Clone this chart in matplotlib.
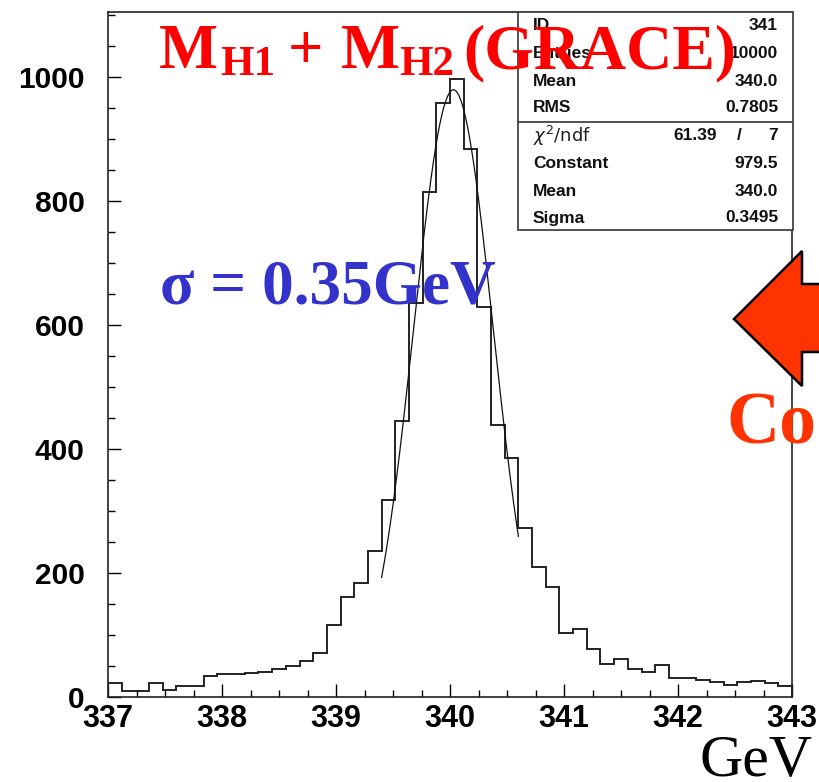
import numpy as np
import matplotlib
matplotlib.use("Agg")
import matplotlib.pyplot as plt
from matplotlib.patches import Rectangle, Polygon

# ---------------- data ----------------
bin_low = 337.0
bin_width = 0.12
counts = [22, 10, 10, 22, 12, 18, 18, 34, 37, 37,
          39, 41, 45, 50, 58, 71, 116, 161, 184, 235,
          318, 445, 635, 815, 958, 997, 884, 629, 438, 385,
          273, 210, 178, 103, 110, 77, 53, 61, 45, 40,
          51, 31, 31, 27, 24, 20, 24, 26, 22, 18]
fit_const = 979.5
fit_mean = 340.03
fit_sigma = 0.3495
fit_range = (339.4, 340.6)
x_ticks = [337, 338, 339, 340, 341, 342, 343]
y_ticks = [0, 200, 400, 600, 800, 1000]
stat_labels = ["ID", "Entries", "Mean", "RMS"]
stat_values = ["341", "10000", "340.0", "0.7805"]
fit_labels = ["Constant", "Mean", "Sigma"]
fit_values = ["979.5", "340.0", "0.3495"]
chi2_text = ["61.39", "/", "7"]

W, H = 819, 782
fig = plt.figure(figsize=(W / 100, H / 100), dpi=100)
fig.patch.set_facecolor("white")

# main axes: left 108, right 792, top 12, bottom 697 (pixels)
ax = fig.add_axes([108 / W, 1 - 697 / H, (792 - 108) / W, (697 - 12) / H])
edges = bin_low + bin_width * np.arange(len(counts) + 1)
ax.stairs(counts, edges, color="#222222", lw=1.4, baseline=0)

xf = np.linspace(fit_range[0], fit_range[1], 200)
yf = fit_const * np.exp(-0.5 * ((xf - fit_mean) / fit_sigma) ** 2)
ax.plot(xf, yf, color="#111111", lw=0.9)

ax.set_xlim(337, 343)
ax.set_ylim(0, 1105)
ax.set_xticks(x_ticks)
ax.set_yticks(y_ticks)
ax.set_xticks(np.arange(337, 343.01, 0.25), minor=True)
ax.set_yticks(np.arange(0, 1101, 50), minor=True)
ax.tick_params(axis="both", which="major", direction="in", length=9.5, width=1.0,
               top=False, right=False)
ax.tick_params(axis="both", which="minor", direction="in", length=5, width=1.0,
               top=False, right=False)
ax.tick_params(axis="x", which="major", pad=5)
ax.tick_params(axis="y", which="major", pad=17)
for lab in ax.get_xticklabels():
    lab.set_fontfamily("Liberation Sans")
    lab.set_fontweight("bold")
    lab.set_fontsize(22)
for lab in ax.get_yticklabels():
    lab.set_fontfamily("Liberation Sans")
    lab.set_fontweight("bold")
    lab.set_fontsize(21.5)
for s in ax.spines.values():
    s.set_linewidth(1.2)
    s.set_color("#222222")

# overlay in pixel coordinates
ov = fig.add_axes([0, 0, 1, 1], zorder=10)
ov.set_xlim(0, W)
ov.set_ylim(H, 0)
ov.axis("off")
ov.patch.set_alpha(0)

# stat box
ov.add_patch(Rectangle((518, 12), 793 - 518, 230 - 12, facecolor="white",
                       edgecolor="#444444", lw=1.3, zorder=1))
ov.plot([518, 793], [122, 122], color="#444444", lw=1.3, zorder=2)
sfont = dict(family="Liberation Sans", weight="bold", fontsize=12.5, va="center", zorder=3,
             color="#111111")
rows_top = [26, 53, 81, 108]
for lab, val, yy in zip(stat_labels, stat_values, rows_top):
    ov.text(533, yy, lab, ha="left", **sfont)
    ov.text(778, yy, val, ha="right", **sfont)
ov.text(533, 136, r"$\chi^{2}$/ndf", ha="left", va="center", fontsize=13,
        family="DejaVu Sans", color="#222222", zorder=3)
ov.text(717, 136, chi2_text[0], ha="right", **sfont)
ov.text(739, 136, chi2_text[1], ha="center", **sfont)
ov.text(778, 136, chi2_text[2], ha="right", **sfont)
rows_bot = [163, 191, 218]
for lab, val, yy in zip(fit_labels, fit_values, rows_bot):
    ov.text(533, yy, lab, ha="left", **sfont)
    ov.text(778, yy, val, ha="right", **sfont)

# title pieces
red = "#ff0000"
tf = dict(family="Liberation Serif", weight="bold", color=red, va="baseline", ha="left", zorder=5)
ov.text(159, 68, "M", fontsize=45, **tf)
ov.text(220, 75, "H1", fontsize=31, **tf)
ov.text(288, 68, "+", fontsize=45, **tf)
ov.text(341, 68, "M", fontsize=45, **tf)
ov.text(399, 75, "H2", fontsize=31, **tf)
ov.text(463, 68, "(GRACE)", fontsize=46, **tf)

# sigma text
ov.text(160, 303, "σ = 0.35GeV", family="Liberation Serif", weight="bold",
        fontsize=45.5, color="#3333cc", va="baseline", ha="left", zorder=5)

# arrow
arrow = Polygon([(734, 319), (802, 251), (802, 284), (840, 284), (840, 352),
                 (802, 352), (802, 386)], closed=True, facecolor="#ff3300",
                edgecolor="black", lw=1.8, zorder=4, clip_on=False)
ov.add_patch(arrow)
ov.text(726, 443, "Co", family="Liberation Serif", weight="bold", fontsize=53,
        color="#ff3300", va="baseline", ha="left", zorder=5)

# GeV label
ov.text(699, 776, "GeV", family="Liberation Serif", fontsize=43, color="black",
        va="baseline", ha="left", zorder=5)

fig.savefig("out.png", dpi=100, facecolor="white")
